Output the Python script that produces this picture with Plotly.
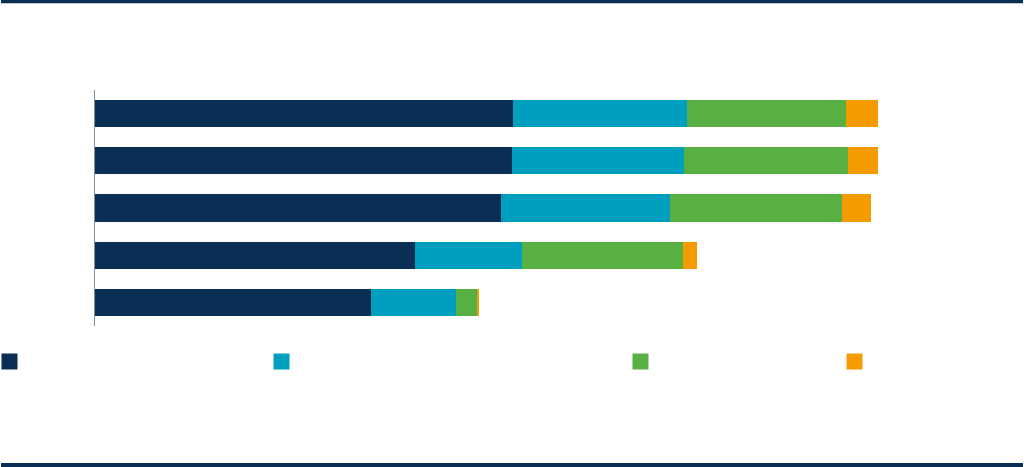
import plotly.graph_objects as go

# Data (labels are not shown in the reference)
categories = ["A", "B", "C", "D", "E"]
series_names = ["", "", "", ""]
navy_vals = [45.4, 45.3, 44.1, 34.8, 30.0]
teal_vals = [19.0, 18.7, 18.4, 11.6, 9.2]
green_vals = [17.2, 17.9, 18.7, 17.5, 2.4]
orange_vals = [3.5, 3.2, 3.2, 1.5, 0.15]

colors = ["#0a2e54", "#009ebf", "#58b042", "#f59b00"]
values = [navy_vals, teal_vals, green_vals, orange_vals]

W, H = 1024, 467
L, R, T, B = 95, 9, 90, 141
pw, ph = W - L - R, H - T - B

fig = go.Figure()
for vals, col in zip(values, colors):
    fig.add_trace(go.Bar(
        y=categories, x=vals, orientation="h",
        marker=dict(color=col, line=dict(width=0)),
        showlegend=False, hoverinfo="skip",
    ))

# legend entries (squares only, text hidden in reference)
legend_px = [9.5, 281.5, 640.5, 854.5]
legend_keys = ["legend", "legend2", "legend3", "legend4"]
for name, col, key in zip(series_names, colors, legend_keys):
    fig.add_trace(go.Scatter(
        x=[None], y=[None], mode="markers", name=name,
        marker=dict(symbol="square", size=16, color=col),
        showlegend=True, legend=key,
    ))


def px_to_paper_x(px):
    return (px - L) / pw


def py_to_paper_y(py):
    return (H - B - py) / ph


layout_legends = {}
for px, key in zip(legend_px, legend_keys):
    layout_legends[key] = dict(
        xref="paper", yref="paper",
        x=px_to_paper_x(px - 20), y=py_to_paper_y(361.5),
        xanchor="left", yanchor="middle",
        bgcolor="rgba(0,0,0,0)", borderwidth=0,
        font=dict(size=12, color="#333"),
        itemsizing="trace",
    )

shapes = [
    dict(type="rect", xref="paper", yref="paper",
         x0=px_to_paper_x(1), x1=px_to_paper_x(1023),
         y0=py_to_paper_y(0), y1=py_to_paper_y(3.2),
         fillcolor="#0a2e54", line=dict(width=0), layer="above"),
    dict(type="rect", xref="paper", yref="paper",
         x0=px_to_paper_x(1), x1=px_to_paper_x(1023),
         y0=py_to_paper_y(463), y1=py_to_paper_y(467),
         fillcolor="#0a2e54", line=dict(width=0), layer="above"),
]

fig.update_layout(
    width=W, height=H,
    margin=dict(l=L, r=R, t=T, b=B, pad=0, autoexpand=False),
    barmode="stack", bargap=0.42,
    plot_bgcolor="white", paper_bgcolor="white",
    xaxis=dict(range=[0, 100], showgrid=False, zeroline=False,
               showticklabels=False, showline=False, ticks=""),
    yaxis=dict(autorange="reversed", showgrid=False, zeroline=False,
               showticklabels=False, ticks="", showline=True,
               linecolor="#8a8f94", linewidth=1),
    shapes=shapes,
    **layout_legends,
)

fig.write_html("out.html", config={"displayModeBar": False},
               post_script="document.body.style.margin='0';")
